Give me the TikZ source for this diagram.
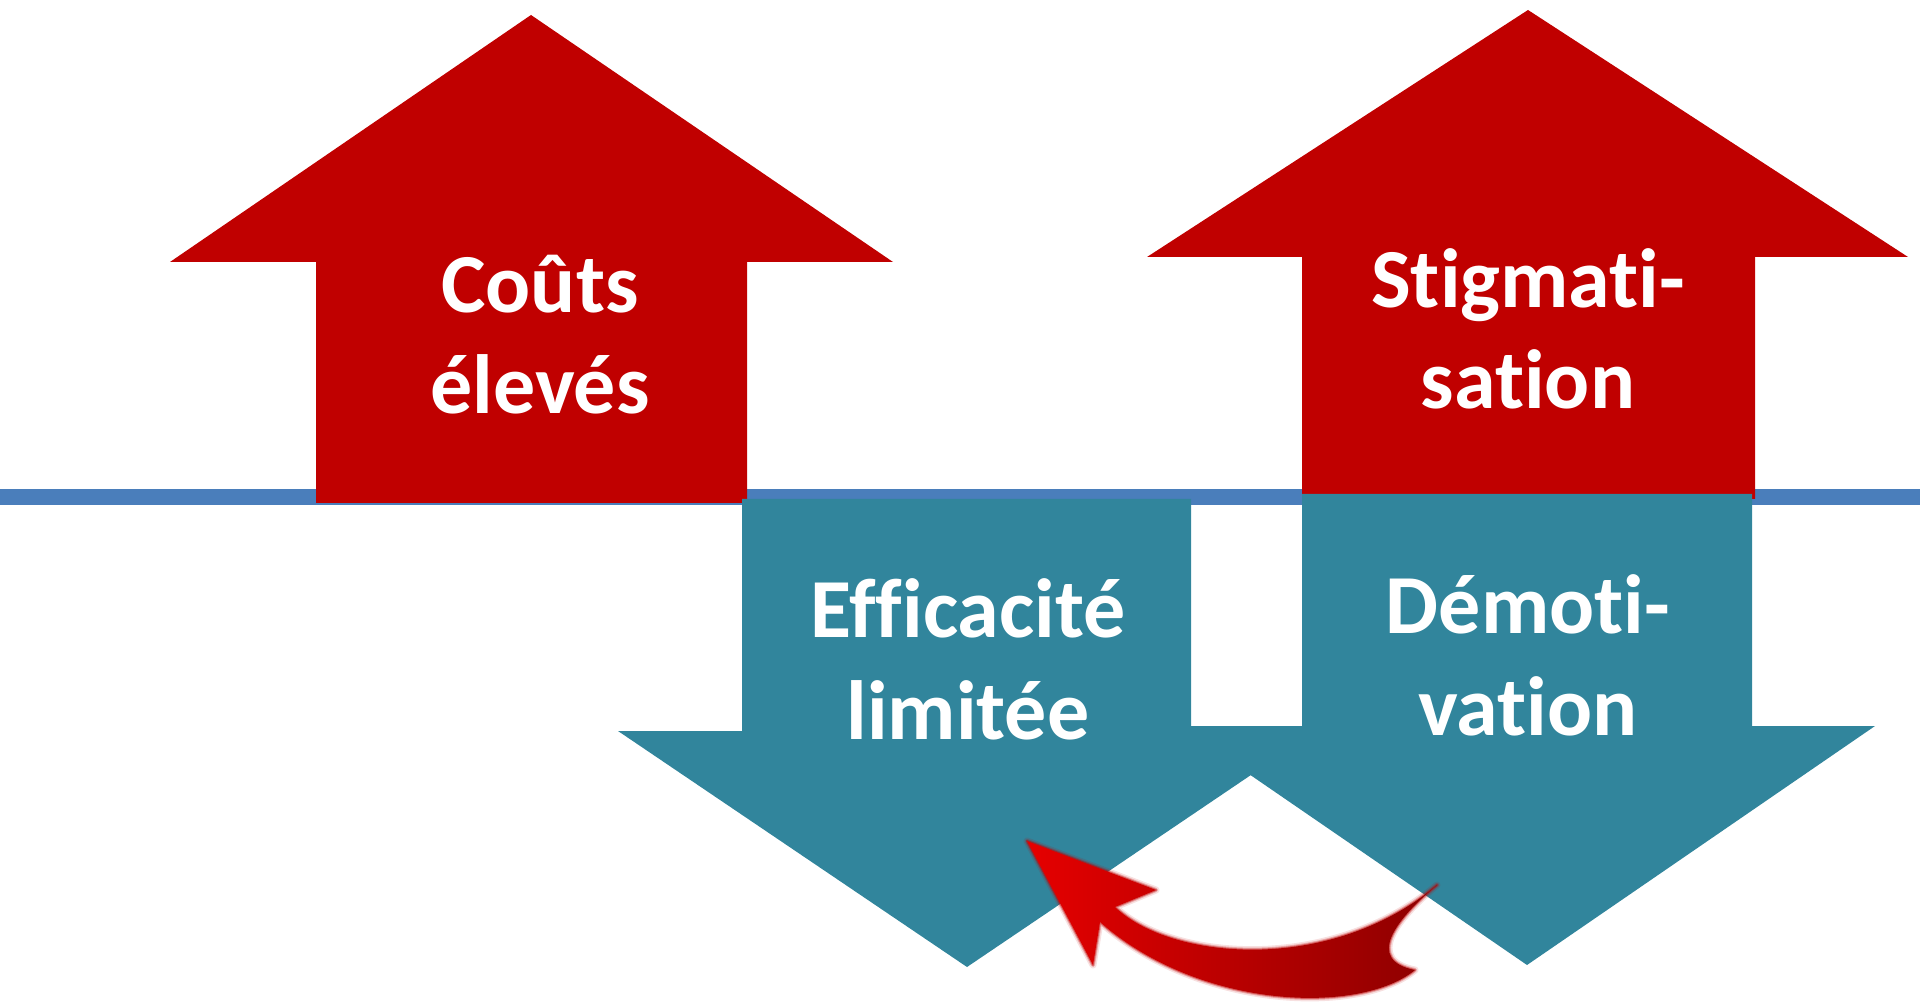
\documentclass[tikz,border=0pt]{standalone}
\usepackage{fontspec}
\newfontfamily\lblfont{Carlito}[Ligatures=NoCommon]
\definecolor{upred}{HTML}{C00000}
\definecolor{downteal}{HTML}{31859C}
\definecolor{axisblue}{HTML}{4A7EBB}
\begin{document}
\begin{tikzpicture}[x=0.5pt, y=-0.5pt,
  uparr/.style = {fill=upred},
  downarr/.style = {fill=downteal},
  lbl/.style = {text=white, align=center, anchor=base, inner sep=0pt,
    font=\lblfont\bfseries\fontsize{42}{50.8}\selectfont},
  loopedge/.style = {line join=round, draw=red!75!black}]
\useasboundingbox (0,0) rectangle (1920,1004);
\fill[axisblue] (0,489) rectangle (1920,505);
\fill[uparr] (316,503) -- (316,262) -- (170,262) -- (531,15) -- (893,262) -- (747,262) -- (747,503) -- cycle;
\fill[uparr] (1302,499) -- (1302,257) -- (1147,257) -- (1528,10) -- (1908,257) -- (1755,257) -- (1755,499) -- cycle;
\fill[downarr] (742,499) -- (1191,499) -- (1191,731) -- (1316,731) -- (967,967) -- (618,731) -- (742,731) -- cycle;
\fill[downarr] (1302,494) -- (1752,494) -- (1752,726) -- (1875,726) -- (1527,965) -- (1179,726) -- (1302,726) -- cycle;
\node[lbl] (couts) at (540,414) {Coûts\\élevés};
\node[lbl] (stigma) at (1528,409) {Stigmati-\\sation};
\node[lbl] (effic) at (968,739) {Efficacité\\limitée};
\node[lbl] (demoti) at (1528,735) {Démoti-\\vation};
% soft edge, then the shaded body
\foreach \w/\o in {7/0.12, 4/0.25, 2/0.45}
  \draw[loopedge, line width=\w*0.5pt, draw opacity=\o]
    (1027,841) -- (1156,890) -- (1115,907)
    .. controls (1170,960) and (1330,975) .. (1437,885)
    .. controls (1395,920) and (1365,960) .. (1415,970)
    .. controls (1360,1015) and (1200,1010) .. (1100,922)
    -- (1093,965) -- cycle;
\shade[left color=red!90!black, right color=red!55!black]
  (1027,841) -- (1156,890) -- (1115,907)
  .. controls (1170,960) and (1330,975) .. (1437,885)
  .. controls (1395,920) and (1365,960) .. (1415,970)
  .. controls (1360,1015) and (1200,1010) .. (1100,922)
  -- (1093,965) -- cycle;
\end{tikzpicture}
\end{document}
